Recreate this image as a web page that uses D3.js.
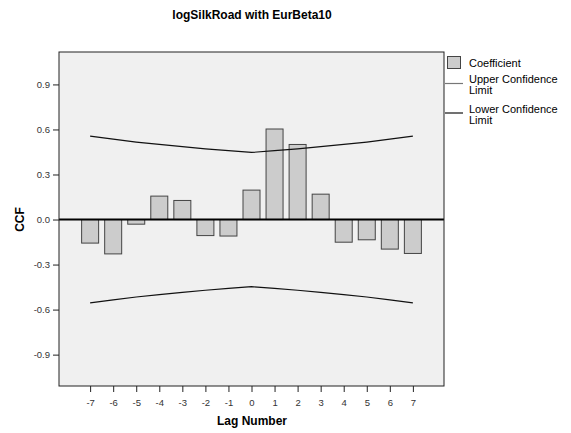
<!DOCTYPE html>
<html>
<head>
<meta charset="utf-8">
<script src="https://cdn.jsdelivr.net/npm/d3@7"></script>
<style>
  body { margin: 0; background: #fff; }
  svg { display: block; font-family: "Liberation Sans", Arial, sans-serif; }
</style>
</head>
<body>
<div id="chart"></div>
<script>
// data
var lags = [-7, -6, -5, -4, -3, -2, -1, 0, 1, 2, 3, 4, 5, 6, 7];
var coefficient = [-0.157, -0.229, -0.031, 0.156, 0.127, -0.107, -0.110, 0.196, 0.603, 0.500, 0.169, -0.151, -0.135, -0.197, -0.226];
var upperLimit = [0.555, 0.535, 0.516, 0.500, 0.485, 0.471, 0.459, 0.447, 0.459, 0.471, 0.485, 0.500, 0.516, 0.535, 0.555];
var lowerLimit = [-0.555, -0.535, -0.516, -0.500, -0.485, -0.471, -0.459, -0.447, -0.459, -0.471, -0.485, -0.500, -0.516, -0.535, -0.555];
var yTicks = [-0.9, -0.6, -0.3, 0.0, 0.3, 0.6, 0.9];

var width = 571, height = 433;
var plot = {left: 59, top: 52, right: 444, bottom: 386};

var svg = d3.select('#chart').append('svg')
	.attr('width', width)
	.attr('height', height);

var x = d3.scaleLinear().domain([-8.35, 8.35]).range([plot.left, plot.right]);
var y = d3.scaleLinear().domain([-1.109, 1.116]).range([plot.bottom, plot.top]);
var barWidth = 17;

// plain hyphen minus, like the original
function hyphen(fmt) {
	return function(d) { return fmt(d).replace('\u2212', '-'); };
}

svg.append('rect')
	.attr('x', plot.left)
	.attr('y', plot.top)
	.attr('width', plot.right - plot.left)
	.attr('height', plot.bottom - plot.top)
	.attr('fill', '#f0f0f0');

// bars
svg.append('g').selectAll('rect')
	.data(coefficient)
	.enter().append('rect')
	.attr('x', function(d, i) { return x(lags[i]) - barWidth / 2; })
	.attr('y', function(d) { return y(Math.max(d, 0)); })
	.attr('width', barWidth)
	.attr('height', function(d) { return Math.abs(y(d) - y(0)); })
	.attr('fill', '#cccccc')
	.attr('stroke', '#444')
	.attr('stroke-width', 1);

// confidence limits
var line = d3.line()
	.x(function(d, i) { return x(lags[i]); })
	.y(function(d) { return y(d); });

[upperLimit, lowerLimit].forEach(function(series) {
	svg.append('path')
		.datum(series)
		.attr('d', line)
		.attr('fill', 'none')
		.attr('stroke', '#111')
		.attr('stroke-width', 1.2);
});

// zero line
svg.append('line')
	.attr('x1', plot.left).attr('x2', plot.right)
	.attr('y1', y(0)).attr('y2', y(0))
	.attr('stroke', '#000')
	.attr('stroke-width', 2);

// frame
svg.append('rect')
	.attr('x', plot.left)
	.attr('y', plot.top)
	.attr('width', plot.right - plot.left)
	.attr('height', plot.bottom - plot.top)
	.attr('fill', 'none')
	.attr('stroke', '#222')
	.attr('stroke-width', 1);

// axes
var yAxis = svg.append('g')
	.attr('transform', 'translate(' + plot.left + ',0)')
	.call(d3.axisLeft(y).tickValues(yTicks).tickFormat(hyphen(d3.format('.1f'))).tickSize(6).tickPadding(3));
var xAxis = svg.append('g')
	.attr('transform', 'translate(0,' + plot.bottom + ')')
	.call(d3.axisBottom(x).tickValues(lags).tickFormat(hyphen(d3.format('d'))).tickSize(6).tickPadding(7));

[yAxis, xAxis].forEach(function(ax) {
	ax.select('.domain').remove();
	ax.selectAll('line').attr('stroke', '#222');
	ax.selectAll('text')
		.attr('fill', '#333')
		.style('font-size', '9.5px')
		.style('font-family', '"Liberation Sans", Arial, sans-serif');
});

// titles
svg.append('text')
	.attr('x', 252).attr('y', 19)
	.attr('text-anchor', 'middle')
	.style('font-size', '12px').style('font-weight', 'bold')
	.text('logSilkRoad with EurBeta10');

svg.append('text')
	.attr('x', 252).attr('y', 425)
	.attr('text-anchor', 'middle')
	.style('font-size', '12px').style('font-weight', 'bold')
	.text('Lag Number');

svg.append('text')
	.attr('transform', 'translate(24,' + y(0) + ') rotate(-90)')
	.attr('text-anchor', 'middle')
	.style('font-size', '12px').style('font-weight', 'bold')
	.text('CCF');

// legend
var legend = svg.append('g').style('font-size', '11px').attr('fill', '#000');
legend.append('rect')
	.attr('x', 447.5).attr('y', 56.5)
	.attr('width', 13).attr('height', 12)
	.attr('fill', '#cccccc').attr('stroke', '#444');
legend.append('text').attr('x', 469).attr('y', 67).text('Coefficient');

legend.append('line')
	.attr('x1', 445).attr('x2', 463).attr('y1', 83.5).attr('y2', 83.5)
	.attr('stroke', '#777').attr('stroke-width', 1.2);
legend.append('text').attr('x', 469).attr('y', 83).text('Upper Confidence');
legend.append('text').attr('x', 469).attr('y', 94).text('Limit');

legend.append('line')
	.attr('x1', 445).attr('x2', 463).attr('y1', 113).attr('y2', 113)
	.attr('stroke', '#111').attr('stroke-width', 1.2);
legend.append('text').attr('x', 469).attr('y', 113).text('Lower Confidence');
legend.append('text').attr('x', 469).attr('y', 124).text('Limit');
</script>
</body>
</html>
